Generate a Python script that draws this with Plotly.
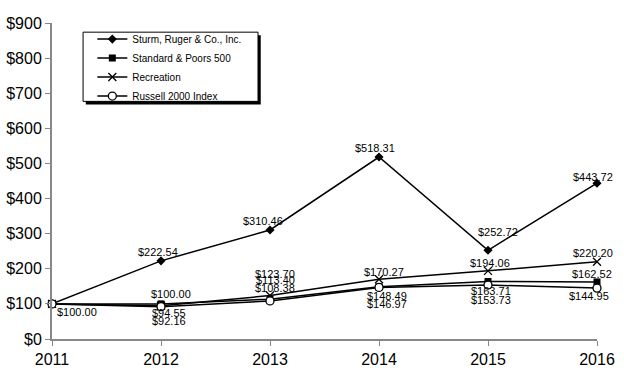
import plotly.graph_objects as go

years = [2011, 2012, 2013, 2014, 2015, 2016]
series_names = ["Sturm, Ruger & Co., Inc.", "Standard & Poors 500", "Recreation", "Russell 2000 Index"]
sturm = [100.00, 222.54, 310.46, 518.31, 252.72, 443.72]
sp500 = [100.00, 100.00, 113.40, 148.49, 163.71, 162.52]
recreation = [100.00, 94.55, 123.70, 170.27, 194.06, 220.20]
russell = [100.00, 92.16, 108.38, 146.97, 153.73, 144.95]
y_ticks = [0, 100, 200, 300, 400, 500, 600, 700, 800, 900]
y_tick_labels = [f"${v}" for v in y_ticks]

# label offsets (px) per point; None = no label
sturm_off = [(25, -8), (-3, 9), (-7, 9), (-4, 9.5), (10, 18.5), (-4, 6)]
sp_off = [None, (9.5, 10), (5, 19), (8, -9), (3, -9), (-5, 7.6)]
rec_off = [None, (7.5, -7), (5, 22), (5, 7.5), (1.5, 8), (-4, 9)]
rus_off = [None, (7.5, -14), (5, 12.6), (8, -16.7), (3, -15), (-8, -8)]

fig = go.Figure()
styles = [
    dict(symbol="diamond", size=7, color="black", line=dict(color="black", width=0)),
    dict(symbol="square", size=7, color="black", line=dict(color="black", width=0)),
    dict(symbol="x-thin-open", size=8, color="black", line=dict(color="black", width=1.3)),
    dict(symbol="circle", size=8, color="white", line=dict(color="black", width=1.3)),
]
all_vals = [sturm, sp500, recreation, russell]
all_offs = [sturm_off, sp_off, rec_off, rus_off]

for name, vals, mk in zip(series_names, all_vals, styles):
    fig.add_trace(go.Scatter(
        x=years, y=vals, name=name, mode="lines+markers",
        line=dict(color="black", width=1.5), marker=mk, cliponaxis=False,
    ))

for vals, offs in zip(all_vals, all_offs):
    for x, v, o in zip(years, vals, offs):
        if o is None:
            continue
        fig.add_annotation(x=x, y=v, text=f"${v:,.2f}", showarrow=False,
                           xshift=o[0], yshift=o[1],
                           font=dict(family="Arial, Liberation Sans", size=11, color="black"))

# legend box with shadow (paper coords)
fig.add_shape(type="rect", xref="paper", yref="paper", x0=0.062, x1=0.383, y0=0.742, y1=0.961,
              fillcolor="black", line=dict(width=0), layer="below")
fig.add_shape(type="rect", xref="paper", yref="paper", x0=0.057, x1=0.378, y0=0.752, y1=0.971,
              fillcolor="white", line=dict(color="black", width=1), layer="below")

fig.update_layout(
    width=624, height=377,
    margin=dict(l=52, r=27, t=23, b=38),
    paper_bgcolor="white", plot_bgcolor="white",
    font=dict(family="Arial, Liberation Sans", color="black"),
    showlegend=True,
    legend=dict(x=0.074, y=0.995, xanchor="left", yanchor="top",
                bgcolor="rgba(0,0,0,0)", borderwidth=0,
                font=dict(size=10), tracegroupgap=0, itemwidth=30),
)
fig.update_xaxes(range=[2011, 2016], tickvals=years, showgrid=False, zeroline=False,
                 showline=True, linecolor="#888", linewidth=2, automargin=False,
                 ticks="outside", ticklen=5, tickcolor="#888",
                 tickfont=dict(size=16))
fig.update_yaxes(range=[0, 900], tickvals=y_ticks, ticktext=y_tick_labels,
                 showgrid=False, zeroline=False, automargin=False,
                 showline=True, linecolor="#888", linewidth=2,
                 ticks="outside", ticklen=5, tickcolor="#888",
                 tickfont=dict(size=16))

fig.write_html("out.html", config={"displayModeBar": False},
               post_script="document.body.style.margin='0';")
